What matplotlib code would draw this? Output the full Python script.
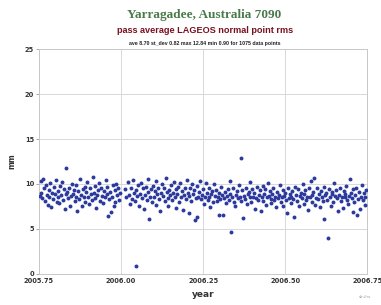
import matplotlib
matplotlib.use("Agg")
import matplotlib.pyplot as plt

# pass average rms per pass (year, mm)
years = [
    2005.752, 2005.755, 2005.757, 2005.760, 2005.763, 2005.765, 2005.768, 2005.771, 2005.774, 2005.777,
    2005.780, 2005.782, 2005.785, 2005.788, 2005.790, 2005.793, 2005.796, 2005.799, 2005.801, 2005.804,
    2005.807, 2005.809, 2005.812, 2005.815, 2005.818, 2005.820, 2005.823, 2005.826, 2005.829, 2005.832,
    2005.834, 2005.837, 2005.840, 2005.842, 2005.845, 2005.848, 2005.851, 2005.853, 2005.856, 2005.859,
    2005.862, 2005.864, 2005.867, 2005.870, 2005.873, 2005.875, 2005.878, 2005.881, 2005.884, 2005.886,
    2005.889, 2005.892, 2005.895, 2005.898, 2005.900, 2005.903, 2005.906, 2005.909, 2005.911, 2005.914,
    2005.917, 2005.920, 2005.922, 2005.925, 2005.928, 2005.931, 2005.933, 2005.936, 2005.939, 2005.942,
    2005.945, 2005.947, 2005.950, 2005.953, 2005.956, 2005.958, 2005.961, 2005.964, 2005.967, 2005.970,
    2005.972, 2005.975, 2005.978, 2005.981, 2005.983, 2005.986, 2005.989, 2005.992, 2005.994, 2005.997,
    2006.012, 2006.016, 2006.021, 2006.024, 2006.027, 2006.030, 2006.033, 2006.036, 2006.039, 2006.042,
    2006.045, 2006.047, 2006.050, 2006.053, 2006.056, 2006.058, 2006.061, 2006.064, 2006.067, 2006.070,
    2006.072, 2006.075, 2006.078, 2006.081, 2006.083, 2006.086, 2006.089, 2006.092, 2006.094, 2006.097,
    2006.100, 2006.103, 2006.106, 2006.108, 2006.111, 2006.114, 2006.117, 2006.119, 2006.122, 2006.125,
    2006.128, 2006.131, 2006.133, 2006.136, 2006.139, 2006.142, 2006.144, 2006.147, 2006.150, 2006.153,
    2006.156, 2006.158, 2006.161, 2006.164, 2006.167, 2006.169, 2006.172, 2006.175, 2006.178, 2006.181,
    2006.183, 2006.186, 2006.189, 2006.192, 2006.194, 2006.197, 2006.200, 2006.203, 2006.206, 2006.208,
    2006.211, 2006.214, 2006.217, 2006.219, 2006.222, 2006.225, 2006.228, 2006.231, 2006.233, 2006.236,
    2006.239, 2006.242, 2006.244, 2006.247, 2006.250, 2006.253, 2006.256, 2006.258, 2006.261, 2006.264,
    2006.267, 2006.269, 2006.272, 2006.275, 2006.278, 2006.281, 2006.283, 2006.286, 2006.289, 2006.292,
    2006.294, 2006.297, 2006.300, 2006.303, 2006.306, 2006.308, 2006.311, 2006.314, 2006.317, 2006.319,
    2006.322, 2006.325, 2006.328, 2006.331, 2006.333, 2006.336, 2006.339, 2006.342, 2006.344, 2006.347,
    2006.350, 2006.353, 2006.356, 2006.358, 2006.361, 2006.364, 2006.367, 2006.369, 2006.372, 2006.375,
    2006.378, 2006.381, 2006.383, 2006.386, 2006.389, 2006.392, 2006.394, 2006.397, 2006.400, 2006.403,
    2006.406, 2006.408, 2006.411, 2006.414, 2006.417, 2006.419, 2006.422, 2006.425, 2006.428, 2006.431,
    2006.433, 2006.436, 2006.439, 2006.442, 2006.444, 2006.447, 2006.450, 2006.453, 2006.456, 2006.458,
    2006.461, 2006.464, 2006.467, 2006.469, 2006.472, 2006.475, 2006.478, 2006.481, 2006.483, 2006.486,
    2006.489, 2006.492, 2006.494, 2006.497, 2006.500, 2006.503, 2006.506, 2006.508, 2006.511, 2006.514,
    2006.517, 2006.519, 2006.522, 2006.525, 2006.528, 2006.531, 2006.533, 2006.536, 2006.539, 2006.542,
    2006.544, 2006.547, 2006.550, 2006.553, 2006.556, 2006.558, 2006.561, 2006.564, 2006.567, 2006.569,
    2006.572, 2006.575, 2006.578, 2006.581, 2006.583, 2006.586, 2006.589, 2006.592, 2006.594, 2006.597,
    2006.600, 2006.603, 2006.606, 2006.608, 2006.611, 2006.614, 2006.617, 2006.619, 2006.622, 2006.625,
    2006.628, 2006.631, 2006.633, 2006.636, 2006.639, 2006.642, 2006.644, 2006.647, 2006.650, 2006.653,
    2006.656, 2006.658, 2006.661, 2006.664, 2006.667, 2006.669, 2006.672, 2006.675, 2006.678, 2006.681,
    2006.683, 2006.686, 2006.689, 2006.692, 2006.694, 2006.697, 2006.700, 2006.703, 2006.706, 2006.708,
    2006.711, 2006.714, 2006.717, 2006.719, 2006.722, 2006.725, 2006.728, 2006.731, 2006.733, 2006.736,
    2006.739, 2006.742, 2006.744, 2006.746,
]
rms_mm = [
    8.7, 10.3, 9.0, 8.4, 10.6, 9.6, 8.1, 9.9, 8.8, 7.7,
    9.3, 8.6, 10.1, 7.4, 9.0, 8.3, 9.7, 8.9, 10.4, 8.0,
    9.2, 8.5, 7.9, 9.8, 8.8, 10.2, 8.2, 9.4, 7.2, 8.9,
    11.8, 9.1, 8.4, 9.6, 7.6, 8.7, 10.0, 8.9, 9.3, 8.1,
    8.6, 9.9, 7.0, 9.2, 8.3, 10.5, 8.8, 7.5, 9.4, 8.5,
    9.7, 8.0, 9.1, 10.2, 8.6, 7.8, 9.5, 8.9, 8.2, 10.8,
    9.0, 8.4, 9.8, 7.3, 8.8, 9.3, 10.1, 8.1, 9.6, 8.7,
    7.9, 9.2, 8.5, 10.4, 8.9, 9.7, 6.4, 8.3, 9.1, 6.9,
    8.6, 9.9, 7.6, 9.3, 8.0, 10.0, 8.8, 9.5, 8.2, 9.0,
    9.4, 8.5, 10.2, 8.8, 7.8, 9.6, 8.3, 10.4, 9.0, 8.1,
    0.9, 9.3, 8.7, 9.9, 7.5, 8.9, 10.1, 8.4, 9.5, 7.2,
    8.8, 9.7, 8.2, 10.6, 9.1, 6.1, 8.6, 9.4, 8.0, 9.8,
    8.5, 9.2, 7.7, 10.3, 8.9, 9.5, 8.3, 7.0, 9.0, 10.0,
    8.7, 9.6, 8.1, 10.7, 9.1, 8.4, 7.6, 9.3, 8.8, 9.9,
    8.2, 9.0, 10.2, 8.6, 7.3, 9.4, 8.9, 9.7, 8.0, 10.1,
    8.5, 9.2, 7.1, 8.8, 9.6, 8.3, 10.4, 9.0, 6.8, 8.7,
    9.5, 8.1, 10.0, 8.9, 9.3, 6.0, 8.4, 9.8, 6.3, 8.6,
    9.1, 10.3, 8.3, 8.8, 9.4, 7.8, 8.6, 10.1, 9.0, 8.2,
    9.6, 8.5, 7.4, 8.9, 9.2, 8.0, 10.0, 8.7, 9.3, 8.1,
    8.6, 6.5, 9.0, 8.3, 9.7, 8.8, 6.6, 8.4, 9.1, 7.9,
    8.7, 9.4, 8.2, 10.3, 8.9, 4.7, 8.5, 9.6, 8.0, 7.6,
    8.8, 9.2, 8.4, 9.9, 8.6, 12.9, 8.1, 9.3, 6.2, 8.7,
    8.3, 9.5, 7.8, 8.9, 9.1, 8.5, 10.2, 8.0, 9.4, 8.6,
    9.0, 7.2, 8.4, 9.7, 8.2, 8.8, 9.3, 7.0, 8.6, 9.8,
    8.1, 8.9, 9.4, 7.7, 8.5, 10.1, 8.7, 9.2, 8.3, 7.9,
    8.9, 9.6, 8.2, 8.6, 7.4, 9.1, 8.4, 8.8, 9.9, 8.0,
    8.5, 9.3, 7.6, 8.7, 9.0, 8.2, 6.8, 9.5, 8.4, 8.9,
    7.9, 8.6, 9.2, 8.3, 6.3, 9.7, 8.8, 8.1, 9.4, 7.5,
    8.7, 9.0, 8.4, 10.0, 7.8, 8.9, 9.3, 8.2, 8.6, 7.1,
    9.5, 8.5, 10.3, 8.0, 8.8, 9.1, 10.7, 7.7, 8.4, 9.6,
    8.3, 8.9, 7.4, 9.2, 8.6, 8.1, 9.7, 6.1, 8.8, 9.0,
    8.2, 4.0, 9.4, 8.5, 7.6, 8.9, 9.1, 8.0, 10.1, 8.7,
    9.3, 8.4, 7.0, 8.8, 9.6, 8.1, 8.6, 7.3, 9.2, 8.5,
    8.9, 9.8, 8.2, 7.8, 8.7, 10.6, 9.0, 8.4, 6.9, 9.4,
    8.0, 8.8, 9.5, 6.6, 8.3, 9.1, 7.2, 8.6, 9.9, 8.2,
    9.0, 8.5, 7.7, 9.3,
]
x_ticks = [2005.75, 2006.00, 2006.25, 2006.50, 2006.75]
y_ticks = [0, 5, 10, 15, 20, 25]

fig = plt.figure(figsize=(3.81, 3.05), dpi=100)
ax = fig.add_axes([0.102, 0.102, 0.862, 0.737])

ax.scatter(years, rms_mm, s=8, color="#2b3a9c", linewidths=0, zorder=3)

ax.set_xlim(2005.75, 2006.75)
ax.set_ylim(0, 25)
ax.set_xticks(x_ticks)
ax.set_xticklabels([f"{t:.2f}" for t in x_ticks])
ax.set_yticks(y_ticks)
ax.grid(True, color="#d8d8d8", linewidth=0.7)
for sp in ax.spines.values():
    sp.set_color("#c8c8c8")
    sp.set_linewidth(0.7)
ax.tick_params(axis="x", length=0, pad=3, labelsize=4.8, labelcolor="#333333")
ax.tick_params(axis="y", length=2, width=0.6, color="#999999", pad=1.5,
               labelsize=4.8, labelcolor="#333333")
for lab in ax.get_xticklabels() + ax.get_yticklabels():
    lab.set_fontweight("bold")

ax.set_xlabel("year", fontsize=6.5, fontweight="bold", color="#333333", labelpad=4)
ax.set_ylabel("mm", fontsize=5.5, fontweight="bold", color="#333333", labelpad=6)

fig.text(0.537, 0.952, "Yarragadee, Australia 7090", ha="center", va="center",
         family="Liberation Serif", fontweight="bold", fontsize=9.5, color="#4a7a4a")
fig.text(0.537, 0.900, "pass average LAGEOS normal point rms", ha="center", va="center",
         family="Liberation Sans", fontweight="bold", fontsize=6.6, color="#7a1020")
fig.text(0.537, 0.857, "ave 8.70 st_dev 0.82 max 12.84 min 0.90 for 1075 data points",
         ha="center", va="center", family="Liberation Sans", fontweight="bold",
         fontsize=3.8, color="#222222")
fig.text(0.975, 0.025, "slr-ilrs", ha="right", va="center", fontsize=3,
         color="#999999")

fig.savefig("out.png", dpi=100)
